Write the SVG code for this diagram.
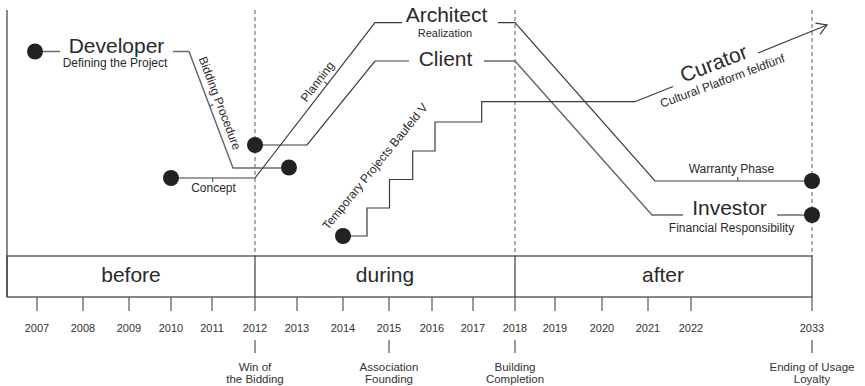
<svg xmlns="http://www.w3.org/2000/svg" width="865" height="386" viewBox="0 0 865 386">
<defs>
<style>
.ln{fill:none;stroke:#3a3a3a;stroke-width:1.2}
.gl{fill:none;stroke:#6a6a6a;stroke-width:1.5}
.ds{fill:none;stroke:#777;stroke-width:1.2;stroke-dasharray:4 3}
.tk{fill:none;stroke:#555;stroke-width:1.2}
.dot{fill:#222}
text{font-family:"Liberation Sans",Arial,sans-serif;fill:#2a2a2a}
.big{font-size:21px}
.sub{font-size:12px}
.yr{font-size:11px;text-anchor:middle;fill:#333}
.ev{font-size:11.5px;text-anchor:middle;fill:#333}
.ph{font-size:21px;text-anchor:middle}
</style>
<marker id="arr" viewBox="-12 -8 14 16" refX="0" refY="0" markerWidth="14" markerHeight="16" markerUnits="userSpaceOnUse" orient="auto">
<path d="M-10,-6 L0,0 L-10,6" fill="none" stroke="#3a3a3a" stroke-width="1.2"/>
</marker>
</defs>
<rect width="865" height="386" fill="#fff"/>

<g id="timeline">
<line class="ln" x1="7" y1="10" x2="7" y2="297"/>
<line class="ds" x1="255" y1="10" x2="255" y2="256"/>
<line class="ds" x1="515" y1="10" x2="515" y2="256"/>
<line class="ds" x1="812" y1="10" x2="812" y2="256"/>
<rect x="7" y="256" width="805" height="41" fill="none" stroke="#3a3a3a" stroke-width="1.2"/>
<line class="ln" x1="255" y1="256" x2="255" y2="297"/>
<line class="ln" x1="515" y1="256" x2="515" y2="297"/>
<text class="ph" x="131" y="282">before</text>
<text class="ph" x="385" y="282">during</text>
<text class="ph" x="663" y="282">after</text>
<g id="year-ticks">
<line class="tk" x1="37" y1="297" x2="37" y2="311"/>
<line class="tk" x1="83" y1="297" x2="83" y2="311"/>
<line class="tk" x1="129" y1="297" x2="129" y2="311"/>
<line class="tk" x1="171" y1="297" x2="171" y2="311"/>
<line class="tk" x1="212" y1="297" x2="212" y2="311"/>
<line class="tk" x1="255" y1="297" x2="255" y2="311"/>
<line class="tk" x1="297" y1="297" x2="297" y2="311"/>
<line class="tk" x1="343" y1="297" x2="343" y2="311"/>
<line class="tk" x1="389" y1="297" x2="389" y2="311"/>
<line class="tk" x1="432" y1="297" x2="432" y2="311"/>
<line class="tk" x1="473" y1="297" x2="473" y2="311"/>
<line class="tk" x1="515" y1="297" x2="515" y2="311"/>
<line class="tk" x1="555" y1="297" x2="555" y2="311"/>
<line class="tk" x1="602" y1="297" x2="602" y2="311"/>
<line class="tk" x1="648" y1="297" x2="648" y2="311"/>
<line class="tk" x1="691" y1="297" x2="691" y2="311"/>
<line class="tk" x1="812" y1="297" x2="812" y2="311"/>
</g>
<g id="years">
<text class="yr" x="37" y="331.5">2007</text>
<text class="yr" x="83" y="331.5">2008</text>
<text class="yr" x="129" y="331.5">2009</text>
<text class="yr" x="171" y="331.5">2010</text>
<text class="yr" x="212" y="331.5">2011</text>
<text class="yr" x="255" y="331.5">2012</text>
<text class="yr" x="297" y="331.5">2013</text>
<text class="yr" x="343" y="331.5">2014</text>
<text class="yr" x="389" y="331.5">2015</text>
<text class="yr" x="432" y="331.5">2016</text>
<text class="yr" x="473" y="331.5">2017</text>
<text class="yr" x="515" y="331.5">2018</text>
<text class="yr" x="555" y="331.5">2019</text>
<text class="yr" x="602" y="331.5">2020</text>
<text class="yr" x="648" y="331.5">2021</text>
<text class="yr" x="691" y="331.5">2022</text>
<text class="yr" x="812" y="331.5">2033</text>
</g>
<g id="events">
<line class="tk" x1="255" y1="340" x2="255" y2="353"/>
<line class="tk" x1="389" y1="340" x2="389" y2="353"/>
<line class="tk" x1="515" y1="340" x2="515" y2="353"/>
<line class="tk" x1="812" y1="340" x2="812" y2="353"/>
<text class="ev" x="255" y="370.5">Win of</text>
<text class="ev" x="255" y="382.5">the Bidding</text>
<text class="ev" x="389" y="370.5">Association</text>
<text class="ev" x="389" y="382.5">Founding</text>
<text class="ev" x="515" y="370.5">Building</text>
<text class="ev" x="515" y="382.5">Completion</text>
<text class="ev" x="812" y="370.5">Ending of Usage</text>
<text class="ev" x="812" y="382.5">Loyalty</text>
</g>
</g>

<g id="connectors">
<polyline class="gl" points="35,51.5 60,51.5"/>
<polyline class="gl" points="173,51.5 189,51.5 233,168 289,168"/>
<polyline class="ln" points="171,178 255,178 375,22.7 402,22.7"/>
<polyline class="ln" points="498,22.7 515,22.7 655,181 812,181"/>
<polyline class="ln" points="255,145 307,145 375,61 409,61"/>
<polyline class="gl" points="484,61 515,61 652,215 683,215"/>
<polyline class="gl" points="777,215 812,215"/>
<polyline class="ln" points="343,236 367,236 367,208 389.5,208 389.5,179.5 412.7,179.5 412.7,151 435,151 435,122 481.7,122 481.7,101.7 635,101.7 673,86.5"/>
<polyline class="ln" points="758,53 827,25" marker-end="url(#arr)"/>
<line class="tk" x1="209.5" y1="106" x2="213.2" y2="104.6"/>
<line class="tk" x1="327" y1="84" x2="324" y2="81.6"/>
<line class="tk" x1="212.7" y1="178" x2="212.7" y2="182"/>
<line class="tk" x1="737.7" y1="177" x2="737.7" y2="181"/>
</g>

<g id="node-developer">
<circle class="dot" cx="35" cy="51.5" r="8"/>
<text class="big" x="116.5" y="53" text-anchor="middle">Developer</text>
<text class="sub" x="115" y="66.5" text-anchor="middle">Defining the Project</text>
</g>
<g id="node-developer-end"><circle class="dot" cx="289" cy="167.5" r="8"/></g>
<g id="label-bidding"><text class="sub" text-anchor="middle" transform="translate(216,104.6) rotate(69.2)">Bidding Procedure</text></g>
<g id="node-concept">
<circle class="dot" cx="171" cy="178" r="8"/>
<text class="sub" x="213.5" y="191.5" text-anchor="middle">Concept</text>
</g>
<g id="node-client-start"><circle class="dot" cx="255" cy="145" r="8"/></g>
<g id="label-planning"><text class="sub" text-anchor="middle" transform="translate(320.7,84.1) rotate(-52.5)">Planning</text></g>
<g id="node-architect">
<text class="big" x="446.5" y="22" text-anchor="middle">Architect</text>
<text style="font-size:11px" x="445" y="37" text-anchor="middle">Realization</text>
</g>
<g id="node-client">
<text class="big" x="445.5" y="66" text-anchor="middle">Client</text>
</g>
<g id="node-temporary">
<circle class="dot" cx="343" cy="236" r="8"/>
<text class="sub" text-anchor="middle" transform="translate(378.1,169) rotate(-50.8)">Temporary Projects Baufeld V</text>
</g>
<g id="node-curator">
<text class="big" text-anchor="middle" transform="translate(716.3,70.1) rotate(-21)">Curator</text>
<text class="sub" text-anchor="middle" transform="translate(723.9,84.7) rotate(-20.5)">Cultural Platform feldfünf</text>
</g>
<g id="node-warranty">
<text class="sub" x="731.5" y="173.3" text-anchor="middle">Warranty Phase</text>
<circle class="dot" cx="812" cy="181" r="8"/>
</g>
<g id="node-investor">
<text class="big" x="729.5" y="215" text-anchor="middle">Investor</text>
<text class="sub" x="731.5" y="231.5" text-anchor="middle">Financial Responsibility</text>
<circle class="dot" cx="812" cy="215" r="8"/>
</g>
</svg>
